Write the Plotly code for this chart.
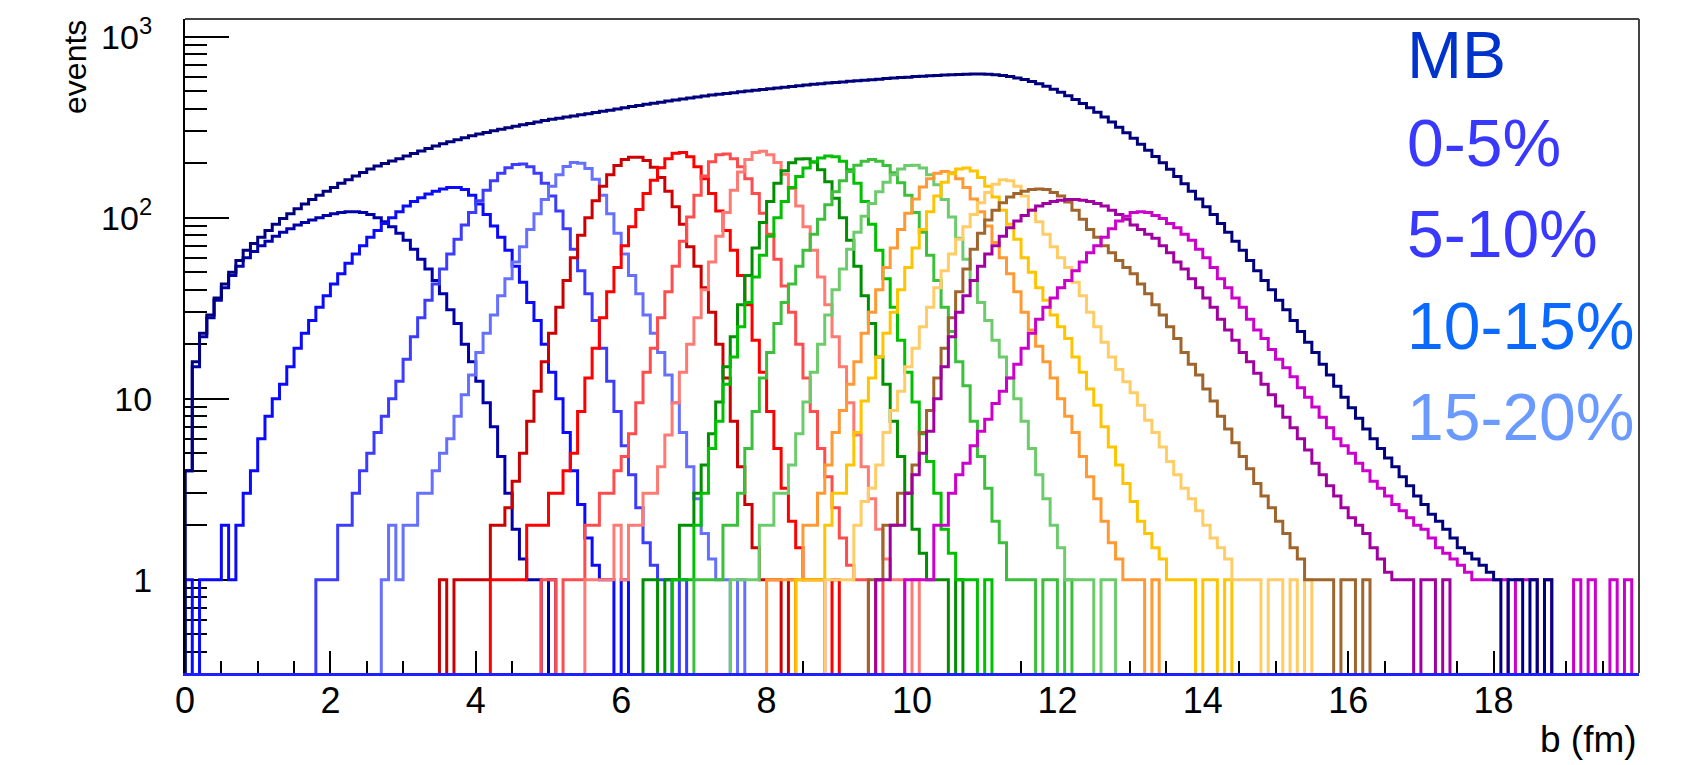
import numpy as np
import plotly.graph_objects as go

# ---------------- data (events per bin, bins of 0.1 fm) ----------------
bin_width = 0.1
b_range = [0.0, 20.0]
y_range = [0.305, 1253.0]

mb_start = 0.0
mb = [4, 16, 23, 29, 36, 43, 50, 58, 66, 72,
      78, 85, 92, 99, 105, 112, 119, 126, 133, 140,
      147, 155, 162, 170, 178, 186, 193, 199, 206, 212,
      219, 226, 234, 241, 249, 256, 263, 270, 277, 284,
      290, 296, 302, 308, 314, 320, 326, 332, 338, 344,
      350, 355, 360, 365, 370, 375, 381, 387, 393, 399,
      405, 411, 417, 423, 429, 435, 441, 447, 453, 459,
      465, 470, 476, 481, 486, 491, 496, 501, 506, 511,
      516, 521, 526, 531, 536, 541, 546, 550, 555, 559,
      563, 567, 571, 575, 579, 583, 587, 591, 595, 598,
      602, 605, 608, 611, 614, 617, 619, 621, 622, 622,
      620, 616, 610, 602, 592, 580, 566, 550, 532, 513,
      493, 472, 450, 428, 405, 382, 360, 338, 316, 295,
      275, 255, 236, 218, 201, 185, 169, 154, 140, 127,
      115, 104, 93, 83, 74, 66, 58, 51, 45, 40,
      35, 31, 27, 23.5, 20.5, 18, 15.5, 13.5, 11.7, 10.2,
      8.9, 7.8, 6.8, 6.0, 5.3, 4.7, 4.2, 3.7, 3.3, 2.9,
      2.6, 2.3, 2.1, 1.9, 1.7, 1.5, 1.4, 1.3, 1.2, 1.1,
      1, 0, 1, 1, 0, 1, 0, 1]

c00_05 = [4, 15, 22, 28, 35, 41, 48, 54, 60, 65,
          70, 74, 79, 83, 87, 91, 94, 97, 100, 103,
          105, 107, 108, 108, 107, 104, 100, 95, 89, 82,
          75, 67, 59, 52, 45, 38, 31, 26, 20, 16,
          12.5, 9.5, 7, 4.8, 3, 1.9, 1.3, 1, 1, 0, 1]
c05_10 = [1, 0, 1, 1, 1, 2, 1, 2, 3, 4,
          6, 8, 10, 12, 15, 19, 23, 27, 32, 37,
          43, 49, 56, 63, 70, 78, 85, 93, 100, 108,
          116, 123, 129, 135, 140, 144, 147, 147, 143, 133,
          119, 104, 90, 78, 66, 54, 44, 34, 27, 20,
          14, 10, 6.5, 4, 2.6, 1.7, 1.2, 1, 1, 0, 1]
c10_15 = [1, 1, 1, 2, 2, 3, 4, 5, 6.5, 8,
          10, 12.5, 16.5, 22, 28, 35, 43, 52, 63, 76,
          91, 107, 124, 142, 160, 176, 189, 197, 198, 191,
          176, 155, 132, 109, 87, 67, 51, 38, 27, 19,
          12.5, 8.5, 5.5, 3.8, 2.5, 1.6, 1.2, 1, 1, 0, 1]
c15_20 = [1, 2, 1, 2, 2, 3, 3, 4, 5, 6,
          8, 10.5, 13.5, 18, 23, 29, 37, 46, 57, 69,
          86, 105, 126, 149, 173, 192, 202, 200, 187, 163,
          133, 105, 82, 63, 48, 38, 29, 23, 18, 13.5,
          9.5, 6.5, 4.2, 2.8, 1.8, 1.3, 1, 1, 0, 1]
c20_25 = [1, 0, 1, 1, 1, 1, 1, 2, 2, 2.5,
          3.5, 5, 7.5, 11, 16, 23, 32, 45, 60, 80,
          100, 124, 149, 173, 194, 210, 216, 216, 207, 190,
          167, 140, 115, 92, 69, 54, 41, 30, 20, 13,
          7.5, 4.2, 2.6, 1.5, 1, 1, 1, 0, 1]
c25_30 = [1, 1, 1, 1, 1, 2, 2, 2, 3, 3,
          4, 5, 8.5, 13, 19, 28, 39, 53, 70, 89,
          111, 136, 161, 189, 212, 227, 229, 217, 191, 164,
          136, 109, 85, 66, 48, 33, 21, 14, 8.5, 5.3,
          3.2, 2.1, 1.5, 1, 1, 1, 0, 1]
c30_35 = [1, 1, 0, 1, 1, 1, 2, 2, 3, 3,
          4, 4.8, 6.4, 9.5, 14, 19, 28, 39, 54, 74,
          101, 133, 170, 204, 223, 225, 212, 191, 164, 136,
          106, 81, 59, 42, 30, 20, 13, 8.5, 5.3, 3.7,
          2.5, 1.7, 1.2, 1, 1, 0, 1]
c35_40 = [1, 1, 1, 1, 2, 1, 2, 2, 3, 3,
          4.2, 6.3, 9.5, 14, 20, 28, 40, 57, 79, 107,
          142, 179, 210, 229, 233, 223, 202, 174, 145, 116,
          89, 66, 47, 33, 22, 15, 9.5, 6.3, 4.2, 2.8,
          1.9, 1.3, 1, 1, 0, 1]
c40_45 = [1, 1, 0, 1, 1, 2, 2, 3, 4.3, 6.4,
          9.6, 15, 22, 33, 48, 68, 94, 123, 155, 182,
          201, 211, 212, 203, 184, 158, 128, 100, 75, 54,
          37, 26, 17, 12, 7.5, 4.8, 3, 1.9, 1.4, 1,
          1, 1, 0, 1]
c45_50 = [1, 1, 1, 2, 3, 5.3, 7.5, 12, 17, 25,
          34, 47, 62, 79, 100, 123, 147, 169, 188, 203,
          214, 219, 217, 205, 184, 155, 123, 92, 66, 46,
          32, 21, 14, 9.6, 6.4, 4.5, 3, 1.9, 1.4, 1,
          1, 1, 0, 1]
c50_55 = [1, 1, 1, 1, 2, 2, 3, 5.3, 8.5, 13,
          18, 26, 34, 43, 54, 66, 81, 98, 118, 139,
          160, 180, 195, 205, 210, 205, 194, 177, 156, 133,
          107, 83, 62, 45, 32, 23.5, 16, 11.8, 7.5, 4.8,
          3.2, 2.1, 1.6, 1, 1, 1, 1, 0, 1, 1,
          0, 1]
c55_60 = [1, 1, 1, 1, 2, 2, 3, 3, 4.3, 6.4,
          9.6, 14, 20, 29, 40, 52, 67, 83, 102, 120,
          139, 157, 173, 186, 194, 195, 188, 173, 152, 126,
          101, 77, 59, 45, 34, 27, 21, 17, 13, 10,
          7.5, 5.3, 3.8, 2.8, 2, 1.5, 1, 1, 1, 1,
          0, 1, 1]
c60_65 = [1, 1, 1, 1, 1, 2, 2, 3, 4.3, 6.5,
          8.6, 12, 16, 23, 30, 40, 53, 68, 86, 106,
          127, 148, 164, 176, 180, 177, 164, 147, 127, 108,
          90, 73, 60, 49, 39, 30, 24, 19.5, 16, 13,
          10, 8, 6.5, 4.8, 3.7, 2.8, 2.1, 1.6, 1.3, 1,
          1, 1, 0, 1]
c65_70 = [1, 1, 1, 1, 2, 3, 3, 4.3, 6.5, 9.7,
          13, 17, 23, 30, 40, 53, 68, 86, 108, 132,
          157, 175, 186, 188, 181, 167, 149, 130, 110, 92,
          76, 60, 50, 41, 35, 29, 25, 21.5, 17, 14,
          11.3, 9.2, 7, 5.4, 4.3, 3.4, 2.7, 2.1, 1.8, 1.5,
          1.3, 1, 1, 1, 1, 0, 1, 1, 0, 1]
c70_75 = [1, 1, 1, 1, 2, 2.7, 3.2, 4.3, 6.5, 8.6,
          11, 15, 19, 25, 32, 41, 51, 63, 76, 89,
          104, 121, 138, 153, 162, 160, 149, 132, 111, 95,
          81, 69, 60, 53, 44, 37, 30, 25, 20.5, 17,
          14.5, 12.4, 10.8, 9.2, 7.6, 6.5, 5.4, 4.5, 3.8, 3.2,
          2.8, 2.4, 2, 1.7, 1.5, 1.3, 1, 1, 1, 1,
          0, 1, 1, 0, 1, 0, 1]
c75_80 = [1, 1, 2, 2, 3, 3, 4.3, 6.5, 8.6, 13,
          19, 28, 39, 52, 67, 82, 97, 110, 121, 130,
          136, 140, 143, 144, 143, 138, 132, 122, 110, 98,
          86, 78, 70, 64, 58, 53, 49, 43, 38, 33,
          29, 25, 21.5, 18, 15.5, 13.5, 11.3, 9.7, 8, 6.8,
          5.7, 4.8, 4.1, 3.4, 2.9, 2.5, 2.1, 1.8, 1.5, 1.3,
          1, 1, 1, 1, 0, 1, 1, 0, 1]
c80_85 = [1, 1, 2, 2, 3, 3.8, 5, 6.6, 10, 15,
          22, 30, 37, 45, 54, 63, 70, 79, 88, 96,
          103, 110, 116, 120, 123, 125, 126, 126, 125, 123,
          120, 116, 110, 104, 98, 91, 86, 81, 77, 70,
          64, 57, 52, 46, 41, 36, 32, 27.5, 24, 21,
          18, 16, 13.8, 12, 10.5, 9.1, 7.9, 6.9, 6, 5.2,
          4.4, 3.8, 3.3, 2.9, 2.5, 2.2, 2, 1.8, 1.5, 1.3,
          1.1, 1, 1, 1, 0, 1, 1, 0, 1]
c85_90 = [1, 1, 1, 1, 2, 2, 3, 3.8, 4.4, 5.5,
          6.6, 7.7, 9.4, 11, 13, 15.5, 19, 23, 27.5, 32,
          36, 41, 45, 51, 57, 64, 70, 78, 87, 96,
          102, 107, 108, 107, 103, 99, 93, 88, 81, 75,
          67, 60, 53, 46, 41, 36, 32, 27.5, 24, 21.5,
          18.7, 16.5, 14.8, 13.2, 11.5, 10.2, 9, 7.9, 6.9, 6,
          5.5, 5, 4.4, 4, 3.5, 3.2, 2.9, 2.6, 2.4, 2.2,
          2, 1.9, 1.7, 1.5, 1.4, 1.3, 1.2, 1.1, 1, 1,
          1, 1, 1, 0, 1, 1, 1, 0, 1, 0,
          0, 0, 1, 0, 1, 0, 0, 1, 0, 1]

class_values = [c00_05, c05_10, c10_15, c15_20, c20_25, c25_30, c30_35, c35_40, c40_45,
                c45_50, c50_55, c55_60, c60_65, c65_70, c70_75, c75_80, c80_85, c85_90]
class_names = ["0-5%", "5-10%", "10-15%", "15-20%", "20-25%", "25-30%", "30-35%", "35-40%",
               "40-45%", "45-50%", "50-55%", "55-60%", "60-65%", "65-70%", "70-75%", "75-80%",
               "80-85%", "85-90%"]
class_starts = [0.0, 0.0, 1.8, 2.7, 3.5, 4.2, 4.9, 5.5, 6.3, 6.7, 7.0, 7.5, 8.0, 8.4, 8.8,
                9.4, 9.5, 9.9]

legend_labels = ["MB", "0-5%", "5-10%", "10-15%", "15-20%"]
x_tick_values = list(range(0, 19, 2))
y_tick_values = [1, 10, 100, 1000]
y_tick_text = ["1", "10", "10<sup>2</sup>", "10<sup>3</sup>"]

# ---------------- styles ----------------
mb_color = "#00007f"
class_colors = ["#0000aa", "#0a0aff", "#3c3cff", "#6670ff",
                "#cc0000", "#ff0000", "#ff4c4c", "#ff7a72",
                "#008f00", "#00c000", "#3cc03c", "#6ccc6c",
                "#ff9933", "#ffc400", "#ffcc66", "#a0642d",
                "#a000a0", "#cc00cc"]
legend_colors = ["#0033cc", "#3838ff", "#3838ff", "#0a6aff", "#6a9aff"]
FONT = "Liberation Sans, Arial, Helvetica, sans-serif"
floor_val = 1e-2  # empty bins fall below the axis


def step_xy(start, vals):
    v = np.asarray(vals, dtype=float)
    edges = start + bin_width * np.arange(len(v) + 1)
    y = np.where(v > 0, v, floor_val)
    xs = np.concatenate([[edges[0]], edges])
    ys = np.concatenate([[floor_val], y, [floor_val]])
    return xs, ys


fig = go.Figure()
for vals, start, color, name in zip(class_values, class_starts, class_colors, class_names):
    xs, ys = step_xy(start, vals)
    fig.add_trace(go.Scatter(x=xs, y=ys, mode="lines", name=name,
                             line=dict(color=color, width=3, shape="hv"),
                             hoverinfo="skip", showlegend=False))
xs, ys = step_xy(mb_start, mb)
fig.add_trace(go.Scatter(x=xs, y=ys, mode="lines", name="MB",
                         line=dict(color=mb_color, width=3, shape="hv"),
                         hoverinfo="skip", showlegend=False))

minor_y = [m * 10.0 ** e for e in range(-1, 4) for m in range(2, 10)
           if y_range[0] < m * 10.0 ** e < y_range[1]]

fig.update_xaxes(range=b_range, showline=True, linecolor="#1f1fff", linewidth=3,
                 mirror=False, ticks="inside", tickvals=x_tick_values,
                 ticklen=22, tickwidth=2, tickcolor="black",
                 minor=dict(ticks="inside", dtick=0.5, tick0=0, ticklen=12,
                            tickwidth=2, tickcolor="black"),
                 showgrid=False, zeroline=False, layer="below traces",
                 tickfont=dict(family=FONT, size=36, color="black"),
                 ticklabelstandoff=-6)
fig.update_yaxes(type="log", range=[np.log10(y_range[0]), np.log10(y_range[1])],
                 tickvals=y_tick_values, ticktext=y_tick_text,
                 ticks="inside", ticklen=44, tickwidth=2, tickcolor="black",
                 minor=dict(tickvals=minor_y, ticks="inside", ticklen=22,
                            tickwidth=2, tickcolor="black"),
                 showline=True, linecolor="black", linewidth=2, mirror=False,
                 showgrid=False, zeroline=False, layer="below traces",
                 tickfont=dict(family=FONT, size=34, color="black"),
                 ticklabelstandoff=24)

# frame (top and right)
fig.add_shape(type="line", xref="paper", yref="paper", x0=0, x1=1, y0=1, y1=1,
              line=dict(color="#444444", width=2))
fig.add_shape(type="line", xref="paper", yref="paper", x0=1, x1=1, y0=0, y1=1,
              line=dict(color="#444444", width=2))

# legend-like labels
legend_y = [0.9446, 0.8103, 0.6707, 0.5311, 0.3915]
for lab, col, yy in zip(legend_labels, legend_colors, legend_y):
    fig.add_annotation(text=lab, xref="paper", yref="paper", x=0.839, y=yy,
                       xanchor="left", yanchor="middle", showarrow=False,
                       font=dict(family=FONT, size=66, color=col))

# axis titles
fig.add_annotation(text="events", xref="paper", yref="paper", x=-0.0755, y=0.927,
                   xanchor="center", yanchor="middle", textangle=-90, showarrow=False,
                   font=dict(family=FONT, size=32, color="black"))
fig.add_annotation(text="b (fm)", xref="paper", yref="paper", x=1.0, y=-0.1017,
                   xanchor="right", yanchor="middle", showarrow=False,
                   font=dict(family=FONT, size=37, color="black"))

fig.update_layout(width=1697, height=765,
                  margin=dict(l=185, r=58, t=14, b=92),
                  paper_bgcolor="white", plot_bgcolor="white",
                  showlegend=False, hovermode=False)

fig.write_html("out.html", config={"displayModeBar": False},
               post_script="document.body.style.margin='0';"
                           "document.body.style.padding='0';"
                           "document.documentElement.style.overflow='hidden';")
